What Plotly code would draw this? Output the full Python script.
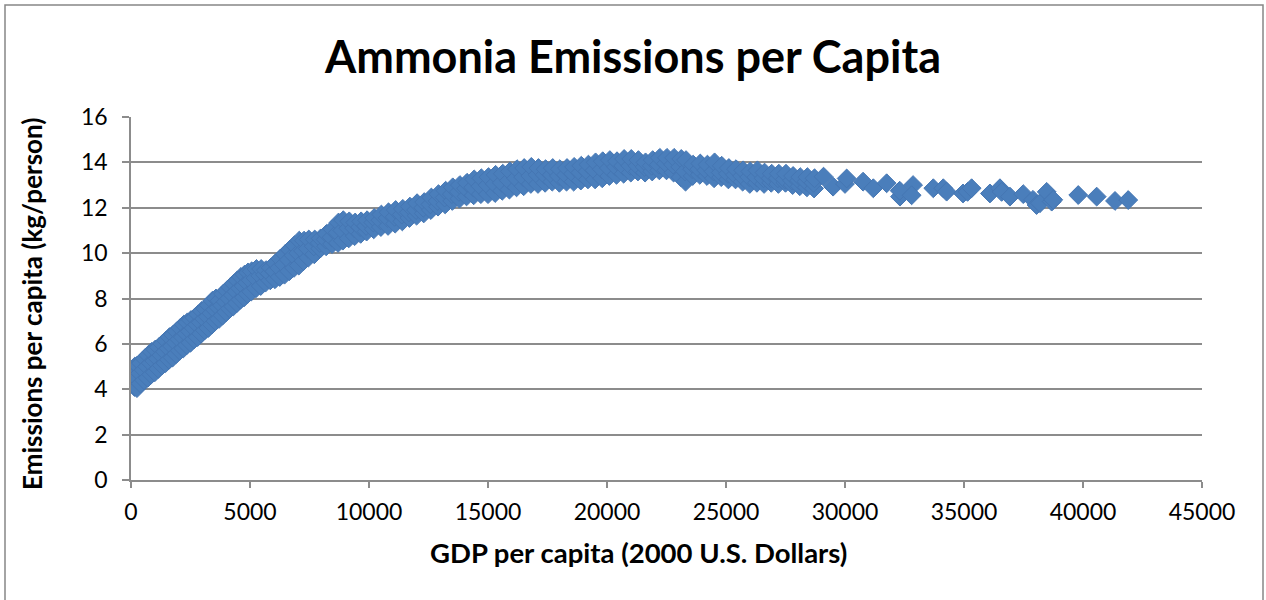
import plotly.graph_objects as go

# GDP per capita (2000 U.S. Dollars) and ammonia emissions per capita (kg/person)
gdp_per_capita = [
    150, 180, 160, 250, 230, 260, 270,
    400, 380, 420, 550, 530, 570, 700, 680, 720, 850, 830, 870,
    1000, 980, 1020, 1150, 1130, 1170, 1300, 1280, 1320, 1450, 1430, 1470,
    1600, 1580, 1620, 1750, 1730, 1770, 1900, 1880, 1920, 2050, 2030, 2070,
    2200, 2180, 2220, 2350, 2330, 2370, 2500, 2480, 2520, 2650, 2630, 2670,
    2800, 2780, 2820, 2950, 2930, 2970, 3100, 3080, 3120, 3250, 3230, 3270,
    3400, 3380, 3420, 3550, 3530, 3570, 3700, 3680, 3720, 3850, 3830, 3870,
    4000, 3980, 4020, 4150, 4130, 4170, 4300, 4280, 4320, 4450, 4430, 4470,
    4600, 4580, 4620, 4750, 4730, 4770, 4900, 4880, 4920, 5050, 5030, 5070,
    5250, 5230, 5270, 5450, 5430, 5470, 5650, 5630, 5670, 5850, 5830, 5870,
    6050, 6030, 6070, 6250, 6230, 6270, 6450, 6430, 6470, 6650, 6630, 6670,
    6850, 6830, 6870, 7050, 7030, 7070, 7250, 7230, 7270, 7450, 7430, 7470,
    7700, 7680, 7720, 7950, 7930, 7970, 8200, 8180, 8220, 8450, 8430, 8470,
    8700, 8680, 8720, 8900, 8880, 8920, 9150, 9130, 9170, 9400, 9380, 9420,
    9650, 9630, 9670, 9900, 9880, 9920, 10200, 10180, 10220, 10500, 10480, 10520,
    10800, 10780, 10820, 11100, 11080, 11120, 11400, 11380, 11420, 11700, 11680, 11720,
    12000, 11980, 12020, 12300, 12280, 12320, 12600, 12580, 12620, 12900, 12880, 12920,
    13200, 13180, 13220, 13500, 13480, 13520, 13800, 13780, 13820, 14100, 14080, 14120,
    14400, 14380, 14420, 14700, 14680, 14720, 15000, 14980, 15020, 15300, 15280, 15320,
    15600, 15580, 15620, 15900, 15880, 15920, 16200, 16180, 16220, 16500, 16480, 16520,
    16800, 16780, 16820, 17100, 17080, 17120, 17400, 17380, 17420, 17700, 17680, 17720,
    18000, 17980, 18020, 18300, 18280, 18320, 18600, 18580, 18620, 18900, 18880, 18920,
    19200, 19180, 19220, 19500, 19480, 19520, 19800, 19780, 19820, 20100, 20080, 20120,
    20400, 20380, 20420, 20700, 20680, 20720, 21000, 20980, 21020, 21300, 21280, 21320,
    21600, 21580, 21620, 21900, 21880, 21920, 22200, 22180, 22220, 22500, 22480, 22520,
    22800, 22780, 22820, 23100, 23080, 23120, 23300, 23280, 23320, 23600, 23580, 23620,
    23900, 23880, 23920, 24200, 24180, 24220, 24500, 24480, 24520, 24800, 24780, 24820,
    25100, 25080, 25120, 25400, 25380, 25420, 25700, 25680, 25720, 26000, 25980, 26020,
    26300, 26280, 26320, 26600, 26580, 26620, 26900, 26880, 26920, 27200, 27180, 27220,
    27500, 27480, 27520, 27800, 27780, 27820, 28100, 28080, 28120, 28400, 28380, 28420,
    28700, 28680, 28720,
    29100, 29500, 30000, 30070, 30760, 31190, 31750, 32310, 32300, 32860, 32800,
    33710, 34130, 34270, 34960, 35150, 35320, 36090, 36510, 36580, 36930, 37490,
    37900, 38050, 38190, 38475, 38685, 38750, 39800, 40575, 41345, 41900,
]

nh3_per_capita = [
    4.1, 4.55, 5.0, 4.05, 4.5, 4.9, 5.05,
    4.25, 4.7, 5.15, 4.4, 4.85, 5.35, 4.5, 5.0, 5.5, 4.65, 5.15, 5.65,
    4.75, 5.25, 5.75, 4.9, 5.35, 5.85, 5.05, 5.5, 6.0, 5.15, 5.65, 6.15,
    5.3, 5.8, 6.3, 5.4, 5.9, 6.4, 5.55, 6.05, 6.55, 5.7, 6.2, 6.7,
    5.8, 6.3, 6.85, 5.95, 6.45, 6.95, 6.05, 6.55, 7.05, 6.2, 6.7, 7.15,
    6.3, 6.85, 7.3, 6.45, 6.95, 7.45, 6.6, 7.1, 7.55, 6.7, 7.2, 7.7,
    6.85, 7.35, 7.9, 7.0, 7.5, 8.0, 7.1, 7.6, 7.9, 7.25, 7.7, 8.2,
    7.4, 7.85, 8.35, 7.55, 8.0, 8.5, 7.65, 8.15, 8.65, 7.8, 8.3, 8.8,
    7.95, 8.45, 8.95, 8.05, 8.55, 9.05, 8.2, 8.7, 9.15, 8.3, 8.8, 9.2,
    8.45, 8.9, 9.3, 8.55, 9.0, 9.3, 8.7, 9.05, 9.25, 8.8, 9.1, 9.35,
    8.85, 9.2, 9.55, 8.95, 9.35, 9.75, 9.05, 9.5, 9.95, 9.2, 9.7, 10.15,
    9.35, 9.9, 10.35, 9.45, 10.0, 10.55, 9.65, 10.1, 10.55, 9.8, 10.2, 10.6,
    9.95, 10.3, 10.6, 10.2, 10.45, 10.65, 10.3, 10.6, 10.85, 10.4, 10.7, 11.05,
    10.45, 10.9, 11.35, 10.55, 11.0, 11.45, 10.65, 11.1, 11.4, 10.75, 11.1, 11.35,
    10.85, 11.15, 11.4, 10.95, 11.2, 11.45, 11.05, 11.35, 11.55, 11.15, 11.45, 11.7,
    11.2, 11.55, 11.8, 11.3, 11.6, 11.9, 11.4, 11.7, 11.95, 11.55, 11.8, 12.05,
    11.65, 11.9, 12.2, 11.75, 12.0, 12.25, 11.9, 12.15, 12.45, 12.05, 12.3, 12.6,
    12.15, 12.45, 12.75, 12.3, 12.6, 12.9, 12.4, 12.7, 13.0, 12.5, 12.85, 13.1,
    12.55, 12.9, 13.25, 12.6, 12.95, 13.3, 12.6, 13.0, 13.35, 12.65, 13.05, 13.45,
    12.75, 13.1, 13.5, 12.8, 13.2, 13.6, 12.9, 13.3, 13.7, 12.95, 13.35, 13.75,
    13.05, 13.4, 13.8, 13.05, 13.45, 13.75, 13.1, 13.45, 13.7, 13.15, 13.45, 13.75,
    13.1, 13.4, 13.7, 13.15, 13.45, 13.75, 13.15, 13.5, 13.8, 13.2, 13.55, 13.85,
    13.25, 13.6, 13.9, 13.25, 13.65, 14.0, 13.3, 13.7, 14.05, 13.4, 13.75, 14.1,
    13.45, 13.8, 14.05, 13.5, 13.85, 14.15, 13.55, 13.85, 14.15, 13.6, 13.85, 14.1,
    13.55, 13.8, 14.0, 13.6, 13.85, 14.1, 13.65, 13.9, 14.2, 13.65, 13.95, 14.2,
    13.55, 13.9, 14.2, 13.35, 13.8, 14.15, 13.15, 13.6, 14.1, 13.4, 13.7, 13.9,
    13.45, 13.7, 13.95, 13.4, 13.65, 13.9, 13.3, 13.6, 14.0, 13.35, 13.55, 13.85,
    13.25, 13.5, 13.75, 13.25, 13.45, 13.7, 13.15, 13.4, 13.65, 13.05, 13.35, 13.6,
    13.1, 13.35, 13.65, 13.05, 13.3, 13.55, 13.1, 13.3, 13.5, 13.05, 13.3, 13.5,
    13.1, 13.25, 13.5, 13.0, 13.2, 13.4, 12.95, 13.2, 13.35, 12.9, 13.15, 13.35,
    12.85, 13.1, 13.3,
    13.37, 12.93, 13.05, 13.29, 13.15, 12.86, 13.08, 12.49, 12.75, 13.0, 12.55,
    12.86, 12.86, 12.71, 12.63, 12.7, 12.86, 12.63, 12.86, 12.7, 12.49, 12.6,
    12.35, 12.12, 12.2, 12.7, 12.27, 12.35, 12.56, 12.49, 12.3, 12.34,
]

x_ticks = [0, 5000, 10000, 15000, 20000, 25000, 30000, 35000, 40000, 45000]
y_ticks = [0, 2, 4, 6, 8, 10, 12, 14, 16]

FONT = "Lato, 'Open Sans', sans-serif"
GRID = "#8c8c8c"

# plot area in pixels: left 131, right 1202, top 117, bottom 480
PLOT_W, PLOT_H = 1071, 363

fig = go.Figure(
    go.Scatter(
        x=gdp_per_capita,
        y=nh3_per_capita,
        mode="markers",
        marker=dict(
            symbol="diamond",
            size=14.5,
            color="#4a7ebb",
            line=dict(color="#4576b3", width=1),
        ),
        showlegend=False,
    )
)

fig.update_layout(
    width=1266,
    height=600,
    margin=dict(l=131, r=64, t=117, b=120),
    paper_bgcolor="white",
    plot_bgcolor="white",
    font=dict(family=FONT, color="black", size=23),
    title=dict(
        text="<b>Ammonia Emissions per Capita</b>",
        x=0.5,
        xanchor="center",
        y=0.905,
        yanchor="middle",
        font=dict(family=FONT, size=45, color="black"),
    ),
    xaxis=dict(
        range=[0, 45000],
        tickvals=x_ticks,
        ticktext=[str(v) for v in x_ticks],
        showgrid=False,
        zeroline=False,
        showline=True,
        linecolor=GRID,
        linewidth=1.5,
        ticks="outside",
        ticklen=6,
        tickcolor=GRID,
        tickwidth=1.5,
        ticklabelstandoff=5,
        tickfont=dict(size=23),
    ),
    yaxis=dict(
        range=[0, 16],
        tickvals=y_ticks,
        ticktext=[str(v) for v in y_ticks],
        showgrid=True,
        gridcolor=GRID,
        gridwidth=1.5,
        zeroline=False,
        showline=True,
        linecolor=GRID,
        linewidth=1.5,
        ticks="outside",
        ticklen=7,
        tickcolor=GRID,
        tickwidth=1.5,
        ticklabelstandoff=10,
        tickfont=dict(size=23),
    ),
    annotations=[
        dict(
            text="<b>GDP per capita (2000 U.S. Dollars)</b>",
            xref="paper",
            yref="paper",
            x=(638 - 131) / PLOT_W,
            y=(480 - 552) / PLOT_H,
            xanchor="center",
            yanchor="middle",
            showarrow=False,
            font=dict(size=27.5),
        ),
        dict(
            text="<b>Emissions per capita (kg/person)</b>",
            xref="paper",
            yref="paper",
            x=(32 - 131) / PLOT_W,
            y=(480 - 304) / PLOT_H,
            xanchor="center",
            yanchor="middle",
            textangle=-90,
            showarrow=False,
            font=dict(size=26),
        ),
    ],
    shapes=[
        dict(
            type="rect",
            xref="paper",
            yref="paper",
            x0=(5 - 131) / PLOT_W,
            x1=(1263 - 131) / PLOT_W,
            y0=-0.4,
            y1=(480 - 5) / PLOT_H,
            line=dict(color="#868686", width=1.5),
            fillcolor="rgba(0,0,0,0)",
            layer="below",
        )
    ],
)

fig.write_html("out.html")
